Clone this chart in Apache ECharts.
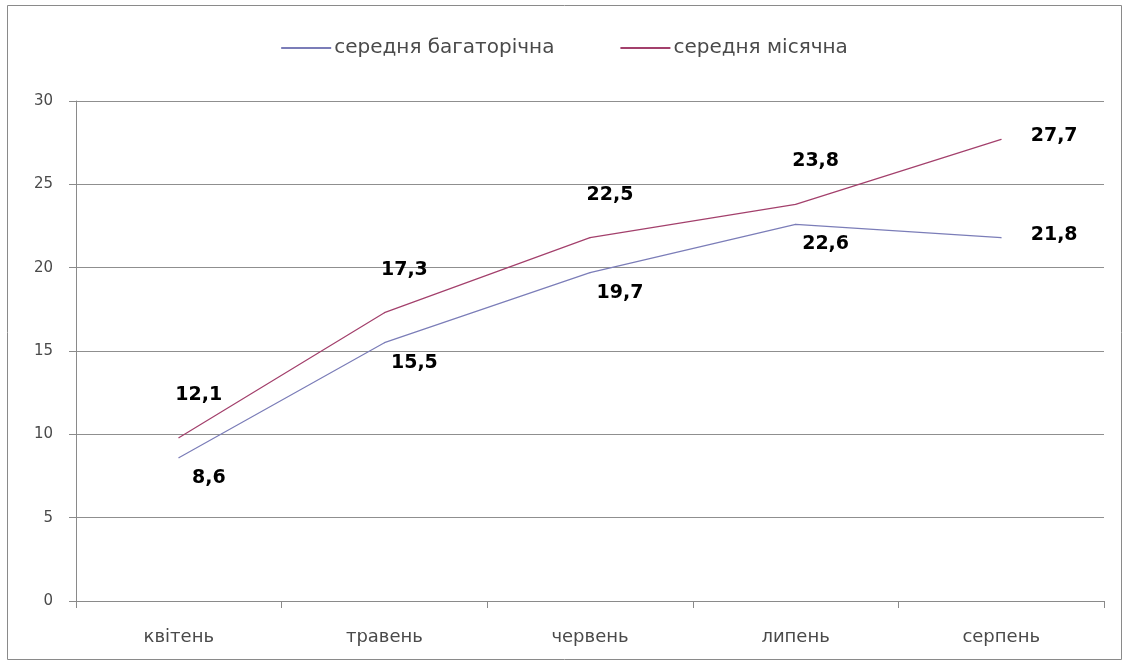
<!DOCTYPE html>
<html>
<head>
<meta charset="utf-8">
<script src="https://cdn.jsdelivr.net/npm/echarts@6/dist/echarts.min.js"></script>
<style>
  html, body { margin: 0; padding: 0; background: #fff; }
  #chart { width: 1129px; height: 666px; }
</style>
</head>
<body>
<div id="chart"></div>
<script>
// місяці
const months = ['квітень', 'травень', 'червень', 'липень', 'серпень'];

// середня багаторічна
const seriesLong = [8.6, 15.5, 19.7, 22.6, 21.8];
const labelsLong = ['8,6', '15,5', '19,7', '22,6', '21,8'];

// середня місячна (положення лінії на малюнку і підписи)
const seriesMonth = [9.8, 17.3, 21.8, 23.8, 27.7];
const labelsMonth = ['12,1', '17,3', '22,5', '23,8', '27,7'];

const yTicks = [0, 5, 10, 15, 20, 25, 30];

const blue = '#7b7db8';
const red = '#a3406c';

const dom = document.getElementById('chart');
const myChart = echarts.init(dom);

function buildData(values, texts) {
    return values.map(function (v, i) {
        const item = { value: v, labelText: texts[i] };
        if (i === values.length - 1) {
            item.label = { position: 'right', offset: [24, -3] };
        }
        return item;
    });
}

const labelFont = {
    show: true,
    fontFamily: 'DejaVu Sans',
    fontWeight: 'bold',
    fontSize: 19,
    color: '#000',
    formatter: function (p) { return p.data.labelText; }
};

const textFont = { fontFamily: 'DejaVu Sans', fontSize: 17, color: '#4a4a4a' };

const option = {
    animation: false,
    backgroundColor: '#fff',
    graphic: [{
        type: 'rect',
        shape: { x: 7.5, y: 5.5, width: 1114, height: 654 },
        style: { fill: 'none', stroke: '#8a8a8a', lineWidth: 1 }
    }],
    legend: {
        top: 33,
        left: 'center',
        itemWidth: 50,
        itemHeight: 2,
        itemGap: 66,
        icon: 'rect',
        textStyle: Object.assign({}, textFont, { fontSize: 20, padding: [0, 0, 0, -2] }),
        data: ['середня багаторічна', 'середня місячна']
    },
    grid: { left: 76, right: 25, top: 101, bottom: 65 },
    xAxis: {
        type: 'category',
        data: months,
        boundaryGap: true,
        axisLine: { lineStyle: { color: '#8a8a8a' } },
        axisTick: { show: true, length: 7, lineStyle: { color: '#8a8a8a' } },
        axisLabel: Object.assign({ margin: 27 }, textFont, { fontSize: 18 })
    },
    yAxis: {
        type: 'value',
        min: yTicks[0],
        max: yTicks[yTicks.length - 1],
        interval: 5,
        axisLine: { show: true, lineStyle: { color: '#8a8a8a' } },
        axisTick: { show: true, length: 7, lineStyle: { color: '#8a8a8a' } },
        axisLabel: Object.assign({ margin: 23 }, textFont, { fontSize: 15 }),
        splitLine: { lineStyle: { color: '#8f8f8f' } }
    },
    series: [
        {
            name: 'середня багаторічна',
            type: 'line',
            data: buildData(seriesLong, labelsLong),
            symbol: 'circle',
            symbolSize: 1,
            showSymbol: true,
            color: blue,
            lineStyle: { width: 1.2, color: blue },
            label: Object.assign({ position: 'bottom', offset: [30, 5] }, labelFont)
        },
        {
            name: 'середня місячна',
            type: 'line',
            data: buildData(seriesMonth, labelsMonth),
            symbol: 'circle',
            symbolSize: 1,
            showSymbol: true,
            color: red,
            lineStyle: { width: 1.2, color: red },
            label: Object.assign({ position: 'top', offset: [20, -28] }, labelFont)
        }
    ]
};

myChart.setOption(option);
</script>
</body>
</html>
